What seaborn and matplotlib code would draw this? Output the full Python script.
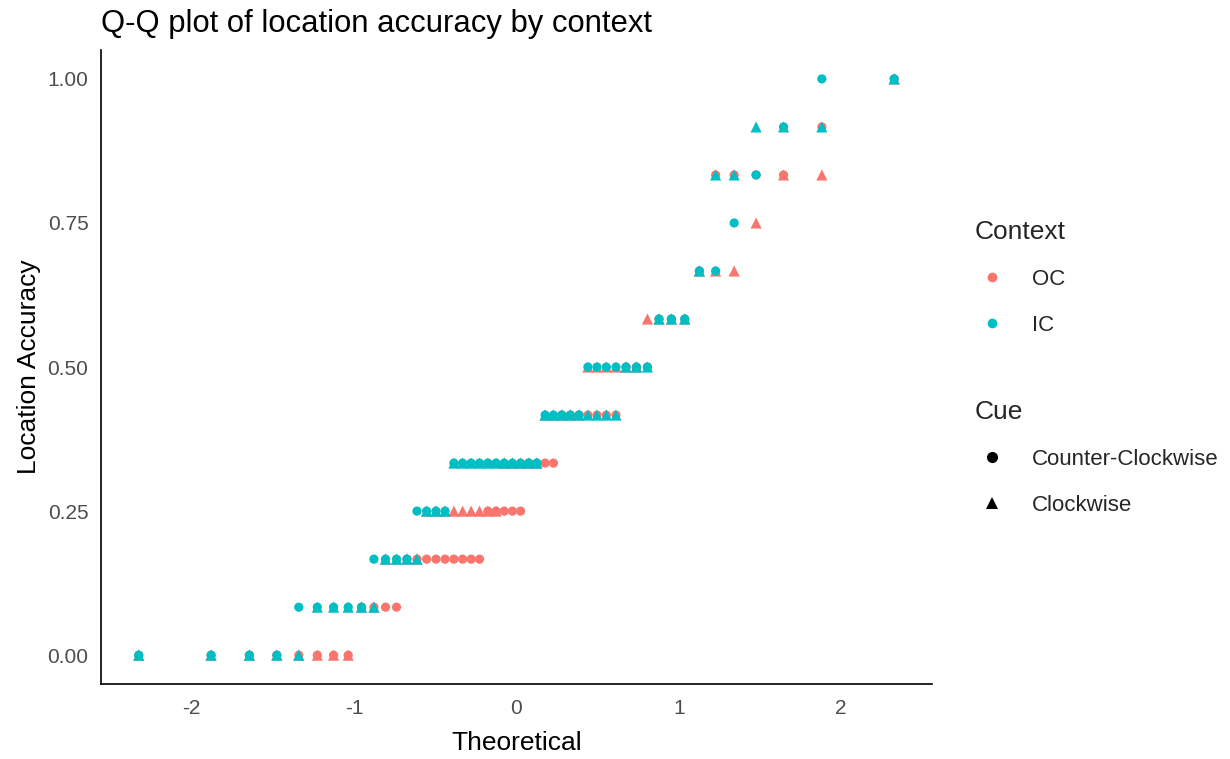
import numpy as np
import pandas as pd
import matplotlib
matplotlib.use("Agg")
import matplotlib.pyplot as plt
import seaborn as sns
from matplotlib.lines import Line2D
from statistics import NormalDist

# Accuracy is scored in twelfths, from 0 to 1
levels = np.arange(13) / 12

# Number of participants at each accuracy level, per context x cue
oc_ccw = [8, 4, 9, 5, 4, 7, 3, 3, 1, 0, 4, 1, 1]
oc_cw = [8, 2, 4, 9, 5, 5, 6, 4, 3, 1, 2, 0, 1]
ic_ccw = [4, 5, 4, 4, 11, 5, 7, 3, 2, 1, 1, 1, 2]
ic_cw = [5, 5, 4, 3, 11, 9, 3, 3, 1, 0, 2, 3, 1]

contexts = ["OC", "IC"]
cues = ["Counter-Clockwise", "Clockwise"]
context_colors = {"OC": "#F8766D", "IC": "#00BFC4"}
cue_markers = {"Counter-Clockwise": "o", "Clockwise": "^"}
cue_sizes = {"Counter-Clockwise": 44, "Clockwise": 64}

groups = [
    ("OC", "Counter-Clockwise", oc_ccw),
    ("OC", "Clockwise", oc_cw),
    ("IC", "Counter-Clockwise", ic_ccw),
    ("IC", "Clockwise", ic_cw),
]

# Normal Q-Q coordinates within each group (plotting positions (i - 0.5) / n)
frames = []
for ctx, cue, counts in groups:
    sample = np.repeat(levels, counts)
    n = len(sample)
    theo = [NormalDist().inv_cdf((i - 0.5) / n) for i in range(1, n + 1)]
    frames.append(pd.DataFrame({"Theoretical": theo, "Accuracy": np.sort(sample),
                                "Context": ctx, "Cue": cue}))
df = pd.concat(frames, ignore_index=True)

sns.set_style("white")
plt.rcParams["font.family"] = ["Liberation Sans", "DejaVu Sans"]
plt.rcParams["axes.unicode_minus"] = False

fig = plt.figure(figsize=(12.3, 7.59), dpi=100)
ax = fig.add_axes([0.0821, 0.0988, 0.6756, 0.8352])

# Groups drawn one after another so later groups sit on top
for ctx, cue, _ in groups:
    sub = df[(df["Context"] == ctx) & (df["Cue"] == cue)]
    sns.scatterplot(data=sub, x="Theoretical", y="Accuracy", hue="Context",
                    palette=context_colors, marker=cue_markers[cue], s=cue_sizes[cue],
                    linewidth=0, legend=False, ax=ax)

xr = df["Theoretical"].abs().max() * 1.1
ax.set_xlim(-xr, xr)
ax.set_ylim(-0.05, 1.05)
ax.set_xticks([-2, -1, 0, 1, 2])
ax.set_xticklabels(["-2", "-1", "0", "1", "2"])
ax.set_yticks([0, 0.25, 0.5, 0.75, 1.0])
ax.set_yticklabels(["0.00", "0.25", "0.50", "0.75", "1.00"])

for side in ["top", "right"]:
    ax.spines[side].set_visible(False)
for side in ["left", "bottom"]:
    ax.spines[side].set_color("black")
    ax.spines[side].set_linewidth(1.2)
ax.tick_params(axis="both", length=5, width=1.0, color="#333333",
               labelsize=15, labelcolor="#4D4D4D")
ax.tick_params(axis="x", pad=6)
ax.tick_params(axis="y", pad=4)

ax.set_xlabel("Theoretical", fontsize=19, color="black", labelpad=9)
ax.set_ylabel("Location Accuracy", fontsize=19, color="black", labelpad=5)
ax.set_title("Q-Q plot of location accuracy by context", loc="left",
             fontsize=22.3, color="black", pad=13)

# Separate legends for colour (Context) and shape (Cue)
ctx_handles = [Line2D([], [], linestyle="", marker="o", markersize=7,
                      markerfacecolor=context_colors[c], markeredgewidth=0) for c in contexts]
cue_handles = [Line2D([], [], linestyle="", marker=cue_markers[c], markersize=8,
                      markerfacecolor="black", markeredgewidth=0) for c in cues]

leg_kw = dict(frameon=False, loc="upper left", fontsize=16, title_fontsize=19,
              alignment="left", handlelength=1.6, handletextpad=1.0,
              labelspacing=1.12, borderpad=0, borderaxespad=0)
leg1 = fig.legend(ctx_handles, contexts, title="Context",
                  bbox_to_anchor=(0.792, 0.710), **leg_kw)
leg2 = fig.legend(cue_handles, cues, title="Cue",
                  bbox_to_anchor=(0.792, 0.473), **leg_kw)
for leg in (leg1, leg2):
    leg._legend_box.sep = 18

fig.savefig("out.png", dpi=100)
